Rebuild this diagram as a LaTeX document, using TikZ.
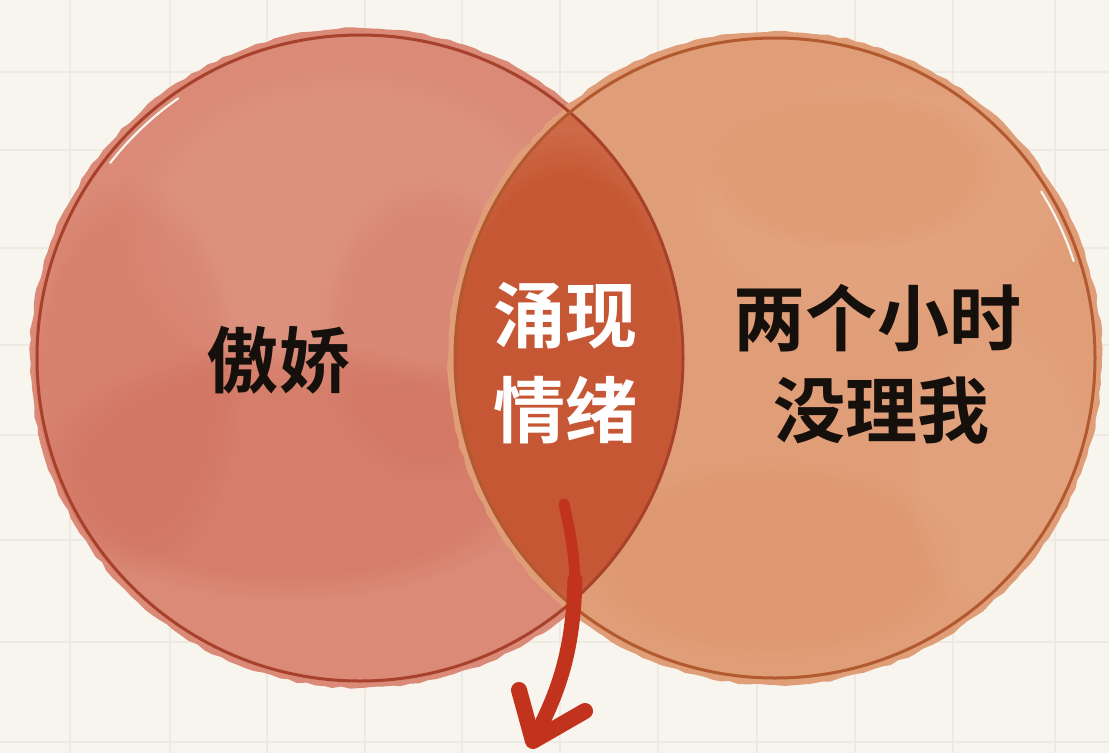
\documentclass[tikz,border=0pt]{standalone}
\usepackage{fontspec}
\newfontfamily\cjk{Noto Sans CJK SC Bold}
\usetikzlibrary{decorations.pathmorphing,fadings}
\definecolor{bg}{HTML}{F8F5EE}
\definecolor{gridc}{HTML}{EEEAE1}
\definecolor{leftbase}{HTML}{DA8A77}
\definecolor{leftlight}{HTML}{E09A87}
\definecolor{leftdark}{HTML}{CB6450}
\definecolor{rightbase}{HTML}{E09E78}
\definecolor{rightlight}{HTML}{E5A987}
\definecolor{rightdark}{HTML}{D88856}
\definecolor{lensin}{HTML}{C4532F}
\definecolor{lensout}{HTML}{CE6A48}
\definecolor{leftline}{HTML}{A8412C}
\definecolor{rightline}{HTML}{B2592F}
\definecolor{arrowc}{HTML}{C2331E}
\definecolor{darktext}{HTML}{16100D}
\tikzset{
  bigtext/.style={font=\cjk\fontsize{72}{95}\selectfont, inner sep=0pt, anchor=base},
  rough/.style={decorate, decoration={random steps, segment length=9pt, amplitude=1.2pt}},
  blob/.style={path fading=circle with fuzzy edge 20 percent},
  ringline/.style={line width=3pt},
  sliver/.style={bg, line width=2.2pt, line cap=round},
  arrowline/.style={arrowc, line cap=round, line join=round}
}
\begin{document}
\begin{tikzpicture}[x=1pt,y=-1pt]
\useasboundingbox (0,0) rectangle (1109,753);
\fill[bg] (0,0) rectangle (1109,753);
\foreach \gx in {70,170,267,365,462,560,658,757,855,953,1055}
  \draw[gridc, line width=1.2pt] (\gx,0) -- (\gx,753);
\foreach \gy in {72,150,248,345,435,540,642,742}
  \draw[gridc, line width=1.2pt] (0,\gy) -- (1109,\gy);

\coordinate (L) at (360,358);
\coordinate (R) at (775,358);

% left watercolour disc
\pgfmathsetseed{11}
\fill[leftbase, rough] (L) circle (330);
\begin{scope}
  \clip (L) circle (326);
  \fill[leftlight, blob, fill opacity=0.45] (350,230) ellipse (230 and 170);
  \fill[leftdark, blob, fill opacity=0.3] (290,470) ellipse (260 and 130);
  \fill[leftdark, blob, fill opacity=0.2] (130,380) ellipse (110 and 200);
  \fill[leftdark, blob, fill opacity=0.18] (430,330) ellipse (110 and 150);
\end{scope}

% right watercolour disc
\pgfmathsetseed{5}
\fill[rightbase, rough] (R) circle (327);
\begin{scope}
  \clip (R) circle (322);
  \fill[rightlight, blob, fill opacity=0.4] (880,200) ellipse (200 and 130);
  \fill[rightdark, blob, fill opacity=0.22] (850,170) ellipse (150 and 80);
  \fill[rightdark, blob, fill opacity=0.22] (770,560) ellipse (190 and 100);
  \fill[rightlight, blob, fill opacity=0.3] (1000,470) ellipse (100 and 160);
\end{scope}

% lens
\begin{scope}
  \clip (L) circle (323);
  \fill[lensout] (R) circle (320);
  \clip (R) circle (320);
  \fill[lensin, blob, fill opacity=0.8] (565,380) ellipse (140 and 250);
\end{scope}

% outlines
\draw[leftline, ringline] (L) circle (323);
\draw[rightline, ringline] (R) circle (320);

% light slivers
\draw[sliver] (L) ++(218:317) arc[start angle=218, end angle=235, radius=317];
\draw[sliver] (R) ++(-32:314) arc[start angle=-32, end angle=-18, radius=314];

% labels
\node[bigtext, text=darktext] (ao) at (278,387) {傲娇};
\node[bigtext, text=white] (yx) at (565,342) {涌现};
\node[bigtext, text=white] (qx) at (565,437) {情绪};
\node[bigtext, text=darktext] (lg) at (877,345) {两个小时};
\node[bigtext, text=darktext] (mlw) at (881,437) {没理我};

% arrow
\coordinate (as) at (564,504);
\coordinate (tip) at (533,741);
\coordinate (hl) at (519,690);
\coordinate (hr) at (585,711);
\draw[arrowline, line width=11pt] (as) .. controls (572,540) and (575,560) .. (575,590);
\draw[arrowline, line width=15pt] (575,580) .. controls (573,650) and (560,690) .. (tip);
\draw[arrowline, line width=16pt] (hl) -- (tip) -- (hr);
\end{tikzpicture}
\end{document}
